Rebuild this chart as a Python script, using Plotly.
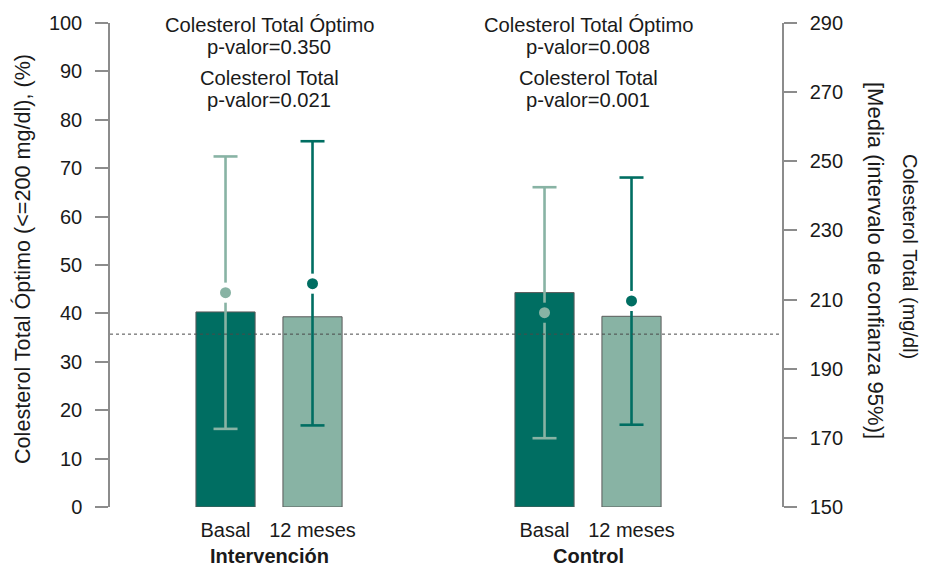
import plotly.graph_objects as go

# ---- data ----
groups = ["Intervención", "Control"]
periods = ["Basal", "12 meses"]
# % with optimal total cholesterol (<=200 mg/dl), one value per group x period
optimo_pct = [40.3, 39.3, 44.3, 39.4]
# total cholesterol mean and 95% CI (mg/dl)
col_mean = [212.0, 214.6, 206.2, 209.6]
col_lo = [172.6, 173.6, 169.9, 173.8]
col_hi = [251.4, 255.8, 242.5, 245.3]
p_optimo = ["0.350", "0.008"]
p_total = ["0.021", "0.001"]
ref_level = 200

# ---- style ----
DARK = "#006E62"
LIGHT = "#88B3A4"
TEXT = "#1a1a1a"
AXIS = "#8c8c8c"
FONT = "Liberation Sans, Arial, sans-serif"
FS = 20
GROUP_STEP = 3.667
BAR_W = 0.68
CAP = 0.138      # half cap width (x units)
GAP = 2.9        # gap between CI line and mean marker (mg/dl)

bar_colors = [DARK, LIGHT]
ci_colors = [LIGHT, DARK]

pos, labels, bcol, ccol = [], [], [], []
for g in range(len(groups)):
    for i, p in enumerate(periods):
        pos.append(g * GROUP_STEP + i)
        labels.append(p)
        bcol.append(bar_colors[i])
        ccol.append(ci_colors[i])

fig = go.Figure()

fig.add_trace(go.Bar(
    x=pos, y=optimo_pct, width=BAR_W,
    marker=dict(color=bcol, line=dict(color="#5a5a5a", width=1)),
    yaxis="y", showlegend=False, hoverinfo="skip",
))

# confidence intervals (broken around the mean marker) and means
for k in range(len(pos)):
    x = pos[k]
    xs = [x - CAP, x + CAP, None, x, x, None, x, x, None, x - CAP, x + CAP]
    ys = [col_hi[k], col_hi[k], None, col_hi[k], col_mean[k] + GAP, None,
          col_mean[k] - GAP, col_lo[k], None, col_lo[k], col_lo[k]]
    fig.add_trace(go.Scatter(
        x=xs, y=ys, mode="lines", yaxis="y2",
        line=dict(color=ccol[k], width=2.6),
        showlegend=False, hoverinfo="skip",
    ))
    fig.add_trace(go.Scatter(
        x=[x], y=[col_mean[k]], mode="markers", yaxis="y2",
        marker=dict(color=ccol[k], size=11),
        showlegend=False, hoverinfo="skip",
    ))

fig.add_shape(type="line", xref="paper", x0=0, x1=1, yref="y2",
              y0=ref_level, y1=ref_level, layer="above",
              line=dict(color="#4a4a4a", width=1, dash="3px,3px"))

annotations = []
for g, name in enumerate(groups):
    cx = g * GROUP_STEP + 0.5
    lines = [("Colesterol Total Óptimo", 99.6), ("p-valor=" + p_optimo[g], 95.1),
             ("Colesterol Total", 88.7), ("p-valor=" + p_total[g], 84.0)]
    for txt, yy in lines:
        annotations.append(dict(x=cx, y=yy, xref="x", yref="y", text=txt,
                                showarrow=False, xanchor="center", yanchor="middle",
                                font=dict(size=20.2, color=TEXT, family=FONT)))
    annotations.append(dict(x=cx, y=0, xref="x", yref="paper", text="<b>" + name + "</b>",
                            showarrow=False, xanchor="center", yanchor="middle", yshift=-49,
                            font=dict(size=FS, color=TEXT, family=FONT)))

annotations.append(dict(x=0, y=0.5, xref="paper", yref="paper", xshift=-88, yshift=6,
                        text="Colesterol Total Óptimo (<=200 mg/dl), (%)", textangle=-90,
                        showarrow=False, xanchor="center", yanchor="middle",
                        font=dict(size=21.6, color=TEXT, family=FONT)))
annotations.append(dict(x=1, y=0.5, xref="paper", yref="paper", xshift=94, yshift=5,
                        text="[Media (intervalo de confianza 95%)]", textangle=90,
                        showarrow=False, xanchor="center", yanchor="middle",
                        font=dict(size=22, color=TEXT, family=FONT)))
annotations.append(dict(x=1, y=0.5, xref="paper", yref="paper", xshift=128, yshift=9,
                        text="Colesterol Total (mg/dl)", textangle=90,
                        showarrow=False, xanchor="center", yanchor="middle",
                        font=dict(size=FS, color=TEXT, family=FONT)))

fig.update_layout(
    width=925, height=566,
    margin=dict(l=110, r=143, t=19, b=59),
    paper_bgcolor="white", plot_bgcolor="white",
    font=dict(family=FONT, size=FS, color=TEXT),
    xaxis=dict(range=[pos[0] - 1.328, pos[-1] + 1.730],
               tickvals=pos, ticktext=labels, ticks="outside", ticklen=5,
               tickcolor="rgba(0,0,0,0)", showline=False, showgrid=False,
               zeroline=False, tickfont=dict(size=FS, color=TEXT, family=FONT)),
    yaxis=dict(range=[0, 100], tick0=0, dtick=10, ticks="outside", ticklen=13,
               tickwidth=1.5, tickcolor=AXIS, showline=True, linecolor=AXIS,
               linewidth=1.5, showgrid=False, zeroline=False, ticklabelstandoff=9,
               tickfont=dict(size=FS, color=TEXT, family=FONT)),
    yaxis2=dict(range=[150, 290], tick0=150, dtick=20, overlaying="y", side="right",
                ticks="outside", ticklen=13, tickwidth=1.5, tickcolor=AXIS,
                showline=True, linecolor=AXIS, linewidth=1.5, ticklabelstandoff=9,
                showgrid=False, zeroline=False,
                tickfont=dict(size=FS, color=TEXT, family=FONT)),
    annotations=annotations,
)

fig.write_html("out.html")
